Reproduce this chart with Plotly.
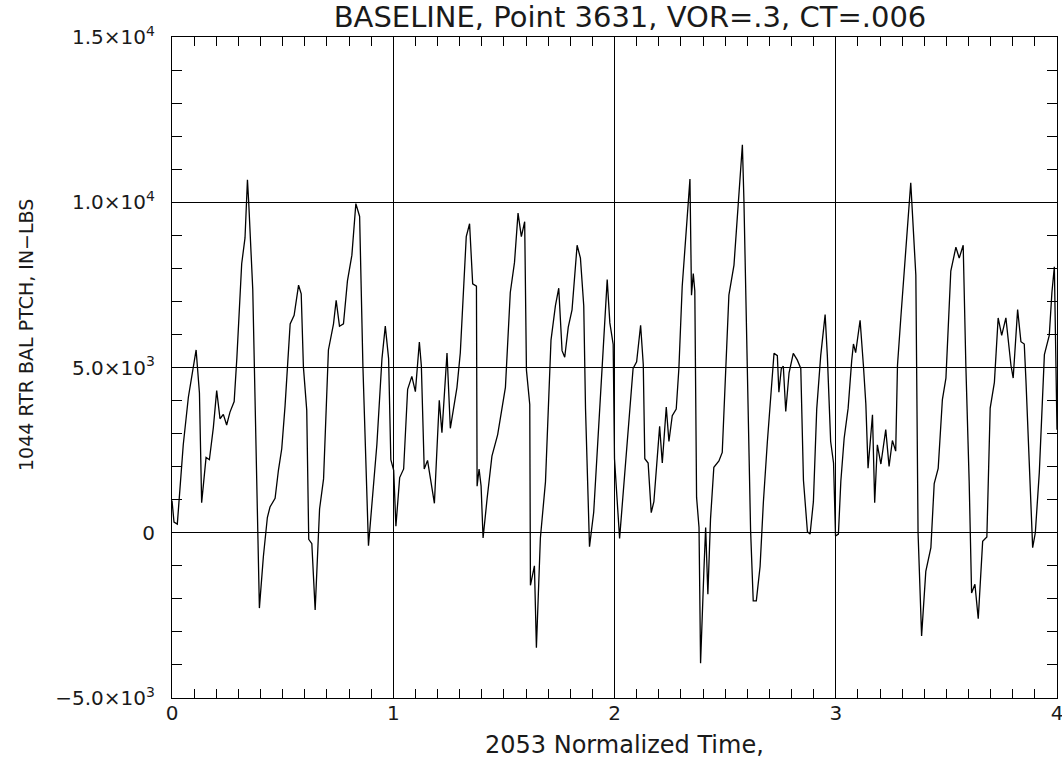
import plotly.graph_objects as go

# Normalized time
time = [
    0.000, 0.009, 0.024, 0.051, 0.074, 0.097, 0.109, 0.124, 0.134, 0.154, 0.169, 0.187, 0.202, 0.217,
    0.232, 0.247, 0.262, 0.281, 0.293, 0.315, 0.330, 0.341, 0.347, 0.365, 0.380, 0.395, 0.413, 0.431,
    0.443, 0.466, 0.481, 0.496, 0.511, 0.534, 0.552, 0.572, 0.584, 0.594, 0.609, 0.618, 0.632, 0.647,
    0.667, 0.685, 0.707, 0.730, 0.742, 0.757, 0.775, 0.793, 0.813, 0.831, 0.848, 0.863, 0.888, 0.911,
    0.926, 0.949, 0.964, 0.979, 0.989, 1.002, 1.012,
    1.029, 1.047, 1.065, 1.084, 1.100, 1.118, 1.127, 1.140, 1.155, 1.170, 1.186, 1.208, 1.220, 1.243,
    1.258, 1.288, 1.303, 1.330, 1.345, 1.359, 1.376, 1.379, 1.388, 1.397, 1.406, 1.424, 1.446, 1.472,
    1.492, 1.507, 1.529, 1.548, 1.564, 1.579, 1.594, 1.602, 1.617, 1.620, 1.638, 1.647, 1.665, 1.688,
    1.713, 1.733, 1.748, 1.763, 1.775, 1.791, 1.808, 1.831, 1.846, 1.861, 1.869, 1.887, 1.906, 1.922,
    1.937, 1.949, 1.967, 1.979, 1.994,
    2.000, 2.023, 2.042, 2.065, 2.084, 2.100, 2.118, 2.130, 2.137, 2.152, 2.166, 2.178, 2.193, 2.204,
    2.216, 2.234, 2.246, 2.261, 2.279, 2.291, 2.306, 2.321, 2.341, 2.348, 2.356, 2.363, 2.371, 2.382,
    2.389, 2.404, 2.412, 2.422, 2.434, 2.449, 2.472, 2.487, 2.502, 2.517, 2.540, 2.578, 2.585, 2.600,
    2.615, 2.627, 2.641, 2.658, 2.673, 2.691, 2.709, 2.721, 2.736, 2.743, 2.754, 2.763, 2.774, 2.789,
    2.808, 2.826, 2.842, 2.854, 2.872, 2.884, 2.899, 2.914, 2.932, 2.952, 2.962, 2.977, 2.990, 2.999,
    3.012,
    3.023, 3.038, 3.056, 3.072, 3.080, 3.090, 3.110, 3.125, 3.136, 3.146, 3.166, 3.176, 3.188, 3.204,
    3.226, 3.241, 3.256, 3.271, 3.279, 3.294, 3.324, 3.339, 3.362, 3.372, 3.388, 3.407, 3.430, 3.445,
    3.463, 3.482, 3.498, 3.520, 3.543, 3.558, 3.576, 3.588, 3.603, 3.614, 3.629, 3.644, 3.664, 3.683,
    3.698, 3.717, 3.734, 3.750, 3.769, 3.792, 3.802, 3.811, 3.822, 3.837, 3.852, 3.860, 3.875, 3.890,
    3.902, 3.920, 3.943, 3.965, 3.977, 3.988, 4.000,
]

# Rotor balance pitch moment, in-lbs
pitch = [
    977, 325, 260, 2670, 4100, 5010, 5530, 4230, 910, 2280, 2210, 3190, 4300, 3450,
    3580, 3260, 3650, 3970, 5270, 8140, 8920, 10680, 9960, 7360, 2150, -2280, -720, 460,
    780, 1040, 1890, 2540, 3840, 6320, 6580, 7490, 7230, 5010, 3710, -200, -330, -2340,
    720, 1630, 5530, 6320, 7030, 6250, 6320, 7620, 8400, 9960, 9570, 5010, -390, 1370,
    2670, 5270, 6250, 5270, 2210, 1890, 195,
    1670, 1930, 4340, 4730, 4270, 5770, 5050, 1930, 2190, 1540, 890, 4010, 3030, 5440,
    3160, 4400, 5440, 8960, 9350, 7530, 7460, 1410, 1930, 1410, -160, 1020, 2320, 2970,
    3750, 4400, 7270, 8180, 9670, 8960, 9410, 4920, 3880, -1590, -1000, -3480, -160, 1540,
    5830, 6870, 7400, 5510, 5310, 6220, 6740, 8700, 8310, 6870, 3750, -420, 620, 2580,
    4140, 5570, 7660, 6350, 5700,
    2240, -170, 1460, 3540, 4970, 5170, 6280, 5100, 2240, 2110, 610, 940, 2240, 3220,
    2110, 3800, 2760, 3540, 3740, 4970, 7450, 8880, 10700, 7190, 7840, 7320, 1070, 160,
    -3950, -1150, 160, -1860, 420, 1980, 2170, 2430, 4710, 7190, 8100, 11740, 10050, 4970,
    90, -2060, -2060, -1020, 940, 2760, 4320, 5430, 5360, 4250, 4970, 5040, 3670, 4840,
    5430, 5230, 4970, 1590, 30, -40, 940, 3740, 5360, 6600, 5360, 2760, 2110, -100,
    -40,
    1560, 2860, 3770, 5200, 5710, 5450, 6430, 5060, 3900, 1950, 3570, 910, 2660, 2080,
    3120, 2010, 2790, 2470, 5060, 6500, 9220, 10590, 7790, 0, -3120, -1170, -450, 1490,
    1950, 4030, 4680, 7920, 8640, 8310, 8700, 5060, 1560, -1820, -1560, -2600, -260, -130,
    3770, 4550, 6500, 5970, 6500, 5060, 4680, 5710, 6750, 5780, 5710, 4550, 1950, -450,
    0, 1820, 5390, 5970, 7270, 8050, 3120,
]

y_tickvals = [-5000, 0, 5000, 10000, 15000]
y_ticktext = ["\u22125.0\u00d710<sup>3</sup>", "0", "5.0\u00d710<sup>3</sup>",
              "1.0\u00d710<sup>4</sup>", "1.5\u00d710<sup>4</sup>"]
x_tickvals = [0, 1, 2, 3, 4]
x_ticktext = ["0", "1", "2", "3", "4"]

title_text = "BASELINE, Point 3631, VOR=.3, CT=.006"
x_title = "2053 Normalized Time,"
y_title = "1044 RTR BAL PTCH, IN\u2212LBS"

FONT = "DejaVu Sans"
INK = "#1a1a1a"

fig = go.Figure()
fig.add_trace(go.Scatter(x=time, y=pitch, mode="lines",
                         line=dict(color="black", width=1.3), showlegend=False))

axis_common = dict(
    showline=True, linecolor="black", linewidth=1.2, mirror="allticks",
    ticks="inside", ticklen=10, tickcolor="black", tickwidth=1,
    showgrid=True, gridcolor="black", gridwidth=1, zeroline=False,
    tickfont=dict(family=FONT, size=20, color=INK),
    automargin=False, ticklabeloverflow="allow",
)

fig.update_xaxes(
    range=[0, 4], tickvals=x_tickvals, ticktext=x_ticktext, ticklabelstandoff=-3,
    minor=dict(dtick=0.1, ticks="inside", ticklen=9, tickcolor="black", showgrid=False),
    **axis_common,
)
fig.update_yaxes(
    range=[-5000, 15000], tickvals=y_tickvals, ticktext=y_ticktext, ticklabelstandoff=12,
    minor=dict(dtick=1000, ticks="inside", ticklen=10, tickcolor="black", showgrid=False),
    **axis_common,
)

fig.update_layout(
    width=1062, height=760,
    margin=dict(l=172, r=5, t=37, b=62),
    paper_bgcolor="white", plot_bgcolor="white",
    title=dict(text=title_text, x=(630 - 172) / 885, xref="paper", xanchor="center",
               y=1 - 17 / 760, yref="container", yanchor="middle",
               font=dict(family=FONT, size=29, color=INK)),
    annotations=[
        dict(text=x_title, xref="paper", yref="paper", x=(624 - 172) / 885,
             y=-(745 - 698) / 661, xanchor="center", yanchor="middle", showarrow=False,
             font=dict(family=FONT, size=24, color=INK)),
        dict(text=y_title, xref="paper", yref="paper", x=-(172 - 26) / 885,
             y=(698 - 335) / 661, xanchor="center", yanchor="middle", showarrow=False,
             textangle=-90, font=dict(family=FONT, size=19, color=INK)),
    ],
)

fig.write_html(
    "out.html",
    config={"displayModeBar": False},
    post_script="document.body.style.margin='0';document.body.style.overflow='hidden';",
)
